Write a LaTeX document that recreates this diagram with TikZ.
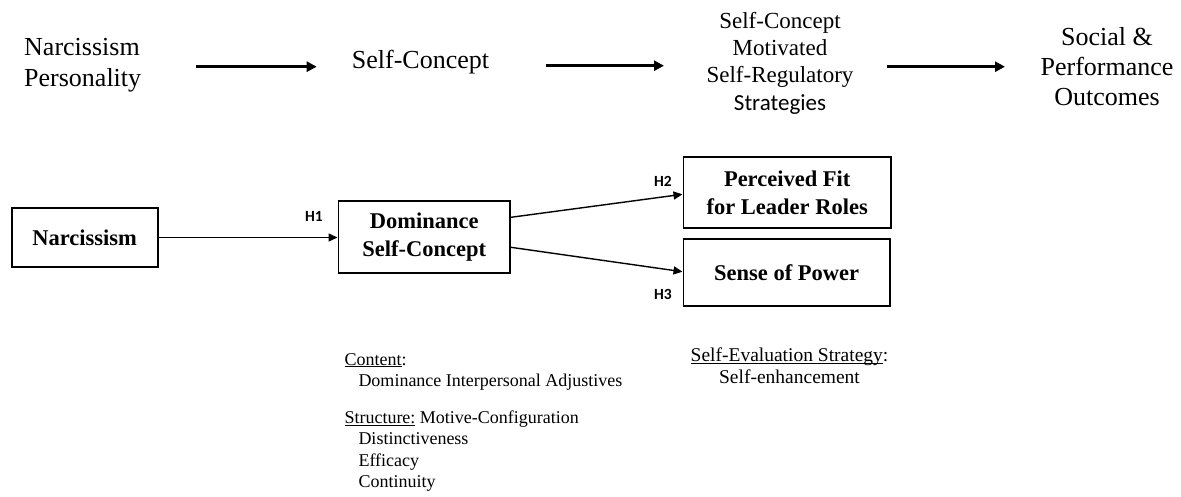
\documentclass[tikz,border=0pt]{standalone}
\usepackage{fontspec}
\setmainfont{Liberation Serif}
\newfontfamily\carlito{Carlito}
\usetikzlibrary{arrows.meta}
\newcommand\myul[1]{\underline{\smash{#1}}}
\begin{document}
\begin{tikzpicture}[x=1pt,y=-1pt,
  bigtext/.style={inner sep=0pt, font=\fontsize{26}{31.7}\selectfont},
  midtext/.style={inner sep=0pt, font=\fontsize{23}{27.2}\selectfont, align=center},
  flowarrow/.style={line width=2.6pt, -{Triangle[length=10pt,width=10pt]}},
  varbox/.style={draw, line width=1.7pt, inner sep=0pt, align=center,
    font=\bfseries\fontsize{22.5}{27.8}\selectfont},
  hyparrow/.style={line width=1.4pt, -{Triangle[length=9pt,width=8pt]}},
  hyplabel/.style={inner sep=0pt, font=\carlito\bfseries\fontsize{15.5}{18}\selectfont},
  notetext/.style={inner sep=0pt, align=left, font=\fontsize{18}{21.3}\selectfont},
  setext/.style={inner sep=0pt, align=center, font=\fontsize{19.5}{21.6}\selectfont}
]
\useasboundingbox (0,0) rectangle (1181,496);

% top row (anchor=base is the baseline of the last line)
\node[bigtext, align=left, anchor=base west] (np) at (24,86.7) {Narcissism\\Personality};
\node[bigtext, anchor=base west] (sc) at (351.7,68.3) {Self-Concept};
\node[midtext, anchor=base] (scm) at (780,110) {Self-Concept\\Motivated\\Self-Regulatory\\{\carlito Strategies}};
\node[bigtext, align=center, anchor=base, font=\fontsize{26}{30}\selectfont] (spo) at (1107,105) {Social \&\\Performance\\Outcomes};

\coordinate (a1s) at (196,66.7);   \coordinate (a1e) at (316.7,66.7);
\coordinate (a2s) at (546,65.7);   \coordinate (a2e) at (664,65.7);
\coordinate (a3s) at (887,66.7);   \coordinate (a3e) at (1005,66.7);
\draw[flowarrow] (a1s) -- (a1e);
\draw[flowarrow] (a2s) -- (a2e);
\draw[flowarrow] (a3s) -- (a3e);

% model
\node[varbox, minimum width=146pt, minimum height=58.4pt] (narc) at (84.7,237.5) {Narcissism};
\node[varbox, minimum width=171.7pt, minimum height=72pt] (dom) at (424.2,236.7) {Dominance\\Self-Concept};
\node[varbox, minimum width=207.7pt, minimum height=71.6pt] (fit) at (787.2,192.5) {Perceived Fit\\for Leader Roles};
\node[varbox, minimum width=206.7pt, minimum height=66.7pt] (pow) at (786.7,272.3) {Sense of Power};

\draw[hyparrow] (narc.east) -- (narc.east -| dom.west);
\draw[hyparrow] ([yshift=19.4pt]dom.east) -- ([yshift=-1.8pt]fit.west);
\draw[hyparrow] ([yshift=-10.6pt]dom.east) -- ([yshift=0.6pt]pow.west);

\node[hyplabel] (h1) at (314,216.7) {H1};
\node[hyplabel] (h2) at (663,181) {H2};
\node[hyplabel] (h3) at (663,294) {H3};

% notes
\node[notetext, anchor=base west] (content) at (344.3,386.5) {\myul{Content}:\\\hspace*{14pt}Dominance Interpersonal Adjustives};
\node[notetext, anchor=base west] (structure) at (344.3,487.5) {\myul{Structure:} Motive-Configuration\\\hspace*{14pt}Distinctiveness\\\hspace*{14pt}Efficacy\\\hspace*{14pt}Continuity};
\node[setext, anchor=base] (seval) at (789.5,383.3) {\myul{Self-Evaluation Strategy}:\\Self-enhancement};
\end{tikzpicture}
\end{document}
